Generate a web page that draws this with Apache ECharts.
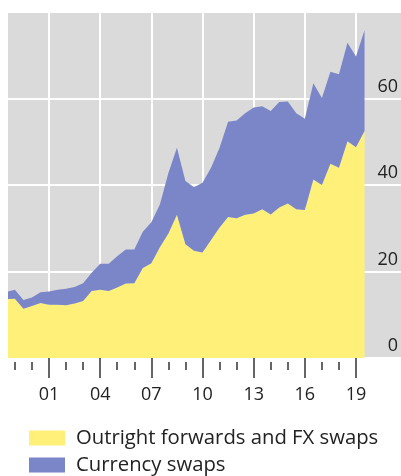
<!DOCTYPE html>
<html>
<head>
<meta charset="utf-8">
<script src="https://cdn.jsdelivr.net/npm/echarts@6/dist/echarts.min.js"></script>
<style>
  html, body { margin: 0; padding: 0; background: #fff; }
  #chart { width: 401px; height: 476px; }
</style>
</head>
<body>
<div id="chart"></div>
<script>
// half-yearly observations, June and December
var years = [1998.5, 1999, 1999.5, 2000, 2000.5, 2001, 2001.5, 2002, 2002.5, 2003, 2003.5,
  2004, 2004.5, 2005, 2005.5, 2006, 2006.5, 2007, 2007.5, 2008, 2008.5, 2009, 2009.5,
  2010, 2010.5, 2011, 2011.5, 2012, 2012.5, 2013, 2013.5, 2014, 2014.5, 2015, 2015.5,
  2016, 2016.5, 2017, 2017.5, 2018, 2018.5, 2019, 2019.5];
var outright = [13.6, 13.7, 11.4, 12.0, 12.7, 12.3, 12.3, 12.2, 12.6, 13.2, 15.5,
  15.8, 15.5, 16.3, 17.2, 17.3, 20.8, 21.9, 25.6, 28.8, 33.1, 26.3, 24.8,
  24.4, 27.3, 30.2, 32.6, 32.3, 33.1, 33.4, 34.4, 33.2, 34.8, 35.7, 34.4,
  34.2, 41.3, 40.0, 44.9, 44.0, 50.1, 48.7, 52.5];
var currencySwaps = [1.7, 2.1, 2.0, 2.0, 2.5, 3.1, 3.5, 3.8, 3.8, 4.1, 4.2,
  6.0, 6.3, 7.2, 7.9, 7.8, 8.4, 9.5, 9.9, 14.0, 15.5, 14.6, 14.7,
  16.1, 16.7, 18.4, 22.0, 22.6, 23.5, 24.5, 23.8, 23.9, 24.4, 23.6, 22.2,
  21.1, 22.2, 20.1, 21.3, 21.6, 22.8, 21.0, 23.3];
var majorYears = [2001, 2004, 2007, 2010, 2013, 2016, 2019];
var minorYears = [1999, 2000, 2001, 2002, 2003, 2004, 2005, 2006, 2007, 2008, 2009,
  2010, 2011, 2012, 2013, 2014, 2015, 2016, 2017, 2018, 2019];
var seriesNames = ['Outright forwards and FX swaps', 'Currency swaps'];
var colors = ['#fff07a', '#7b86c9'];

// value first so that the stack runs on y, year second
function pairs(vals) {
  var out = [];
  for (var i = 0; i < vals.length; i++) {
    out.push([vals[i], years[i]]);
  }
  return out;
}

var font = 'Open Sans';
var xMin = 1998.596, xMax = 2021.638;

var option = {
  animation: false,
  color: colors,
  grid: {
    left: 8, right: 0, top: 12, bottom: 118,
    show: true, backgroundColor: '#dadada', borderWidth: 0
  },
  legend: {
    orient: 'vertical',
    left: 29, top: 428, padding: 0,
    icon: 'rect',
    itemWidth: 36, itemHeight: 15, itemGap: 7,
    itemStyle: { borderWidth: 0 },
    textStyle: { fontFamily: font, fontSize: 20.3, lineHeight: 20, color: '#222', padding: [0, 0, 0, 6] },
    data: seriesNames
  },
  xAxis: [
    {
      type: 'value', min: xMin, max: xMax, position: 'bottom', offset: 4,
      axisLine: { show: false },
      axisTick: { customValues: majorYears, length: 20, lineStyle: { color: '#333', width: 1.5 } },
      axisLabel: {
        customValues: majorYears, margin: 24,
        fontFamily: font, fontSize: 18, color: '#222',
        formatter: function (v) { return String(v).slice(2); }
      },
      splitLine: { show: true, lineStyle: { color: '#fff', width: 2 } }
    },
    {
      type: 'value', min: xMin, max: xMax, position: 'bottom', offset: 4,
      axisLine: { show: false },
      axisTick: { customValues: minorYears, length: 8, lineStyle: { color: '#333', width: 1.5 } },
      axisLabel: { show: false },
      splitLine: { show: false }
    }
  ],
  yAxis: {
    type: 'value', position: 'right', min: 0, max: 80, interval: 20,
    axisLine: { show: false },
    axisTick: { show: false },
    axisLabel: {
      inside: true, margin: 3, showMaxLabel: false,
      fontFamily: font, fontSize: 18, color: '#222',
      verticalAlign: 'bottom', lineHeight: 24
    },
    splitLine: { lineStyle: { color: '#fff', width: 2 } }
  },
  series: [
    {
      name: seriesNames[0], type: 'line', stack: 'fx', symbol: 'none',
      encode: { x: 1, y: 0 },
      lineStyle: { width: 0 },
      itemStyle: { color: colors[0] },
      areaStyle: { color: colors[0], opacity: 1 },
      data: pairs(outright)
    },
    {
      name: seriesNames[1], type: 'line', stack: 'fx', symbol: 'none',
      encode: { x: 1, y: 0 },
      lineStyle: { width: 0 },
      itemStyle: { color: colors[1] },
      areaStyle: { color: colors[1], opacity: 1 },
      data: pairs(currencySwaps)
    }
  ]
};

echarts.init(document.getElementById('chart')).setOption(option);
</script>
</body>
</html>
